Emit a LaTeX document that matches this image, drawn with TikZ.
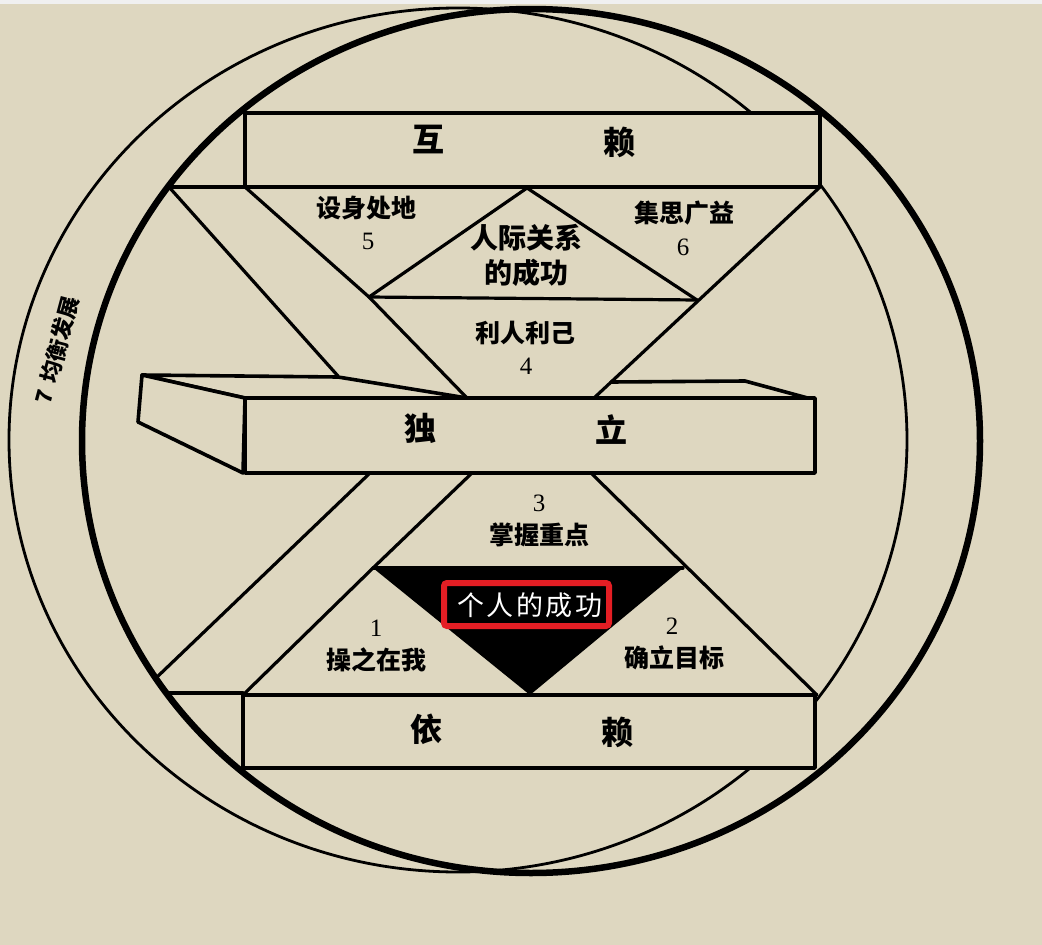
\documentclass[tikz,border=0pt]{standalone}
\usepackage{fontspec}
\newfontfamily\cjk{Noto Sans CJK SC}
\newfontfamily\numfont{Liberation Serif}
\definecolor{paper}{RGB}{222,215,192}
\definecolor{boxred}{RGB}{228,30,36}
\tikzset{
  ink/.style={line width=3.2pt, line join=round, line cap=round},
  barbox/.style={ink, line width=3.6pt, fill=paper},
  bigchar/.style={font=\cjk\bfseries\fontsize{32}{34}\selectfont, inner sep=0pt},
  lab/.style={font=\cjk\bfseries\fontsize{25}{27}\selectfont, inner sep=0pt},
  biglab/.style={font=\cjk\bfseries\fontsize{28}{35}\selectfont, inner sep=0pt, align=center},
  num/.style={font=\numfont\fontsize{25}{26}\selectfont, inner sep=0pt}
}
\begin{document}
\begin{tikzpicture}[x=1pt,y=-1pt]
\fill[paper] (0,0) rectangle (1042,945);
\fill[black!6] (0,0) rectangle (1042,4);
\useasboundingbox (0,0) rectangle (1042,945);

% circles
\draw[line width=2.8pt] (458,440) ellipse [x radius=449pt, y radius=432pt];
\draw[line width=6.5pt] (531,441) ellipse [x radius=449pt, y radius=432pt];

% upper structure
\draw[ink] (169,187) -- (245,187);
\draw[ink] (169,187) -- (338,376);
\draw[ink] (245,187) -- (369,297) -- (467,398);
\draw[ink] (820,187) -- (594,398);
\draw[ink] (369,297) -- (697,300);
\draw[ink] (369,297) -- (527,188) -- (697,300);

% lower structure
\draw[ink] (370,473) -- (156,678);
\draw[ink] (472,473) -- (373,568) -- (245,693);
\draw[ink] (591,473) -- (817,695);
\draw[ink] (166,693) -- (243,693);
\fill[black] (373,568) -- (683,568) -- (530,695) -- cycle;
\draw[ink] (373,568) -- (683,568);

% bars
\draw[barbox] (245,113) rectangle (820,187);
\draw[barbox] (243,695) rectangle (815,768);
\draw[barbox] (142,375) -- (338,377) -- (467,398) -- (245,398) -- cycle;
\draw[barbox] (142,375) -- (245,398) -- (243,473) -- (138,422) -- cycle;
\draw[ink, line width=3.6pt] (611,382) -- (745,381) -- (815,400);
\draw[barbox] (245,398) rectangle (815,473);

% red frame
\draw[boxred, line width=6pt, rounded corners=3pt] (444,583) rectangle (609,626);

% texts
\node[bigchar] (hu) at (428,140) {互};
\node[bigchar] (lai1) at (619,142) {赖};
\node[bigchar] (du) at (420,428) {独};
\node[bigchar] (li) at (611,430) {立};
\node[bigchar] (yi) at (426,729) {依};
\node[bigchar] (lai2) at (617,732) {赖};

\node[lab] (t5) at (366,208) {设身处地};
\node[num] (n5) at (368,241) {5};
\node[lab] (t6) at (684,213) {集思广益};
\node[num] (n6) at (683,247) {6};
\node[biglab] (rel) at (526,255) {人际关系\\的成功};
\node[lab] (t4) at (525,333) {利人利己};
\node[num] (n4) at (526,366) {4};
\node[num] (n3) at (539,503) {3};
\node[lab] (t3) at (539,535) {掌握重点};
\node[num] (n1) at (376,628) {1};
\node[lab] (t1) at (376,660) {操之在我};
\node[num] (n2) at (672,626) {2};
\node[lab] (t2) at (674,658) {确立目标};
\node[font=\cjk\fontsize{27}{30}\selectfont, text=white, inner sep=0pt] (self) at (530,605) {个\kern2.5pt 人\kern2.5pt 的\kern2.5pt 成\kern2.5pt 功};
\node[font=\cjk\bfseries\fontsize{22}{24}\selectfont, inner sep=0pt, rotate=75] (bal) at (57,350) {7\hspace{8pt}均衡发展};
\end{tikzpicture}
\end{document}
